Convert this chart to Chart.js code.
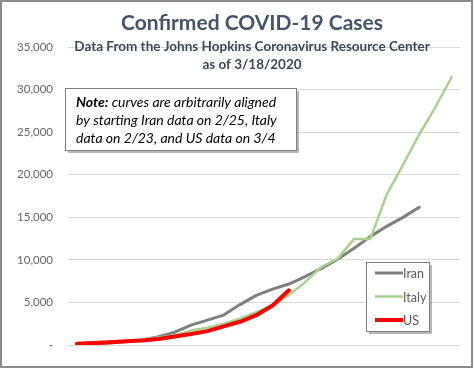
<!DOCTYPE html>
<html>
<head>
<meta charset="utf-8">
<script src="https://cdn.jsdelivr.net/npm/chart.js@4/dist/chart.umd.min.js"></script>
<style>
  html, body { margin: 0; padding: 0; background: #fff; }
  #wrap {
    position: relative;
    width: 475px;
    height: 370px;
  }
  #frame {
    position: absolute;
    left: 0; top: 0;
    width: 469px; height: 364px;
    border: 2px solid #8a8a8a;
    pointer-events: none;
  }
  canvas { position: absolute; left: 0; top: 0; }
</style>
</head>
<body>
<div id="wrap">
  <canvas id="chart" width="475" height="370"></canvas>
  <div id="frame"></div>
</div>
<script>
(function() {
  'use strict';
  // 開始日からの日数
  const dayIndex = [0, 1, 2, 3, 4, 5, 6, 7, 8, 9, 10, 11, 12, 13, 14, 15, 16, 17, 18, 19, 20, 21, 22, 23];
  // イラン (2/25 開始)
  const iranCases = [95, 139, 245, 388, 593, 978, 1501, 2336, 2922, 3513, 4747, 5823, 6566, 7161,
    8042, 9000, 10075, 11364, 12729, 13938, 14991, 16169];
  // イタリア (2/23 開始)
  const italyCases = [155, 229, 322, 453, 655, 888, 1128, 1694, 2036, 2502, 3089, 3858, 4636, 5883,
    7375, 9172, 10149, 12462, 12462, 17660, 21157, 24747, 27980, 31506];
  // 米国 (3/4 開始)
  const usCases = [153, 221, 319, 435, 541, 704, 994, 1301, 1630, 2183, 2727, 3499, 4632, 6421];
  // 縦軸の目盛
  const yTicks = [0, 5000, 10000, 15000, 20000, 25000, 30000, 35000];
  const seriesNames = ['Iran', 'Italy', 'US'];

  const titleText = 'Confirmed COVID-19 Cases';
  const subtitleLines = ['Data From the Johns Hopkins Coronavirus Resource Center', 'as of 3/18/2020'];
  const noteLines = [
    [['Note:', true], [' curves are arbitrarily aligned', false]],
    [['by starting Iran data on 2/25, Italy', false]],
    [['data on 2/23, and US data on 3/4', false]],
  ];

  const FONT = 'Lato, "Open Sans", sans-serif';

  function toPoints(values) {
    return values.map(function(v, i) { return { x: dayIndex[i], y: v }; });
  }

  // タイトル・注記・凡例を描く
  const decorPlugin = {
    id: 'decor',
    afterDraw: function(chart) {
      const ctx = chart.ctx;
      ctx.save();
      // タイトル
      ctx.textAlign = 'center';
      ctx.textBaseline = 'alphabetic';
      ctx.fillStyle = '#44546a';
      ctx.font = 'bold 21px ' + FONT;
      ctx.fillText(titleText, 252, 30);
      ctx.fillStyle = '#3a4858';
      ctx.font = 'bold 13.5px ' + FONT;
      ctx.fillText(subtitleLines[0], 252, 51);
      ctx.fillText(subtitleLines[1], 252, 69);

      // 注記ボックス
      const nx = 65, ny = 88, nw = 231, nh = 62;
      ctx.fillStyle = 'rgba(0,0,0,0.28)';
      ctx.fillRect(nx + 3, ny + 3, nw, nh);
      ctx.fillStyle = '#ffffff';
      ctx.fillRect(nx, ny, nw, nh);
      ctx.strokeStyle = '#7f7f7f';
      ctx.lineWidth = 1;
      ctx.strokeRect(nx + 0.5, ny + 0.5, nw, nh);
      ctx.textAlign = 'left';
      ctx.fillStyle = '#000000';
      noteLines.forEach(function(line, i) {
        let x = nx + 11;
        const y = ny + 19 + i * 18;
        line.forEach(function(part) {
          ctx.font = (part[1] ? 'italic bold ' : 'italic ') + '14px ' + FONT;
          ctx.fillText(part[0], x, y);
          x += ctx.measureText(part[0]).width;
        });
      });

      // 凡例ボックス
      const lx = 366, ly = 262, lw = 63, lh = 69;
      ctx.fillStyle = 'rgba(0,0,0,0.28)';
      ctx.fillRect(lx + 3, ly + 3, lw, lh);
      ctx.fillStyle = '#ffffff';
      ctx.fillRect(lx, ly, lw, lh);
      ctx.strokeStyle = '#7f7f7f';
      ctx.strokeRect(lx + 0.5, ly + 0.5, lw, lh);
      ctx.font = '12.5px ' + FONT;
      ctx.textBaseline = 'middle';
      chart.data.datasets.forEach(function(ds, i) {
        const y = ly + 11 + i * 23.5;
        ctx.strokeStyle = ds.borderColor;
        ctx.lineWidth = ds.borderWidth;
        ctx.beginPath();
        ctx.moveTo(lx + 9, y);
        ctx.lineTo(lx + 37, y);
        ctx.stroke();
        ctx.fillStyle = '#595959';
        ctx.fillText(ds.label, lx + 37, y + 1);
      });
      ctx.restore();
    }
  };

  new Chart(document.getElementById('chart').getContext('2d'), {
    type: 'line',
    data: {
      datasets: [{
        label: seriesNames[0],
        data: toPoints(iranCases),
        borderColor: '#7f7f7f',
        borderWidth: 3,
        order: 3,
      }, {
        label: seriesNames[1],
        data: toPoints(italyCases),
        borderColor: '#a9d18e',
        borderWidth: 2.5,
        order: 2,
      }, {
        label: seriesNames[2],
        data: toPoints(usCases),
        borderColor: '#ff0000',
        borderWidth: 4,
        order: 1,
      }],
    },
    options: {
      responsive: false,
      animation: false,
      events: [],
      layout: {
        padding: { left: 0, right: 15, top: 47, bottom: 25 },
      },
      elements: {
        point: { radius: 0 },
        line: { tension: 0, borderCapStyle: 'round', borderJoinStyle: 'round' },
      },
      plugins: {
        legend: { display: false },
        title: { display: false },
        tooltip: { enabled: false },
      },
      scales: {
        x: {
          type: 'linear',
          display: false,
          min: -0.55,
          max: 23.5,
        },
        y: {
          min: 0,
          max: 35000,
          afterBuildTicks: function(scale) {
            scale.ticks = yTicks.map(function(v) { return { value: v }; });
          },
          afterFit: function(scale) {
            scale.width = 68;
          },
          border: { display: false },
          grid: {
            color: '#d9d9d9',
            drawTicks: false,
          },
          ticks: {
            padding: 15,
            color: '#666666',
            font: { family: FONT, size: 11.5 },
            callback: function(v) {
              return v === 0 ? '-' : v.toLocaleString('en-US');
            },
          },
        },
      },
    },
    plugins: [decorPlugin],
  });
})();
</script>
</body>
</html>
